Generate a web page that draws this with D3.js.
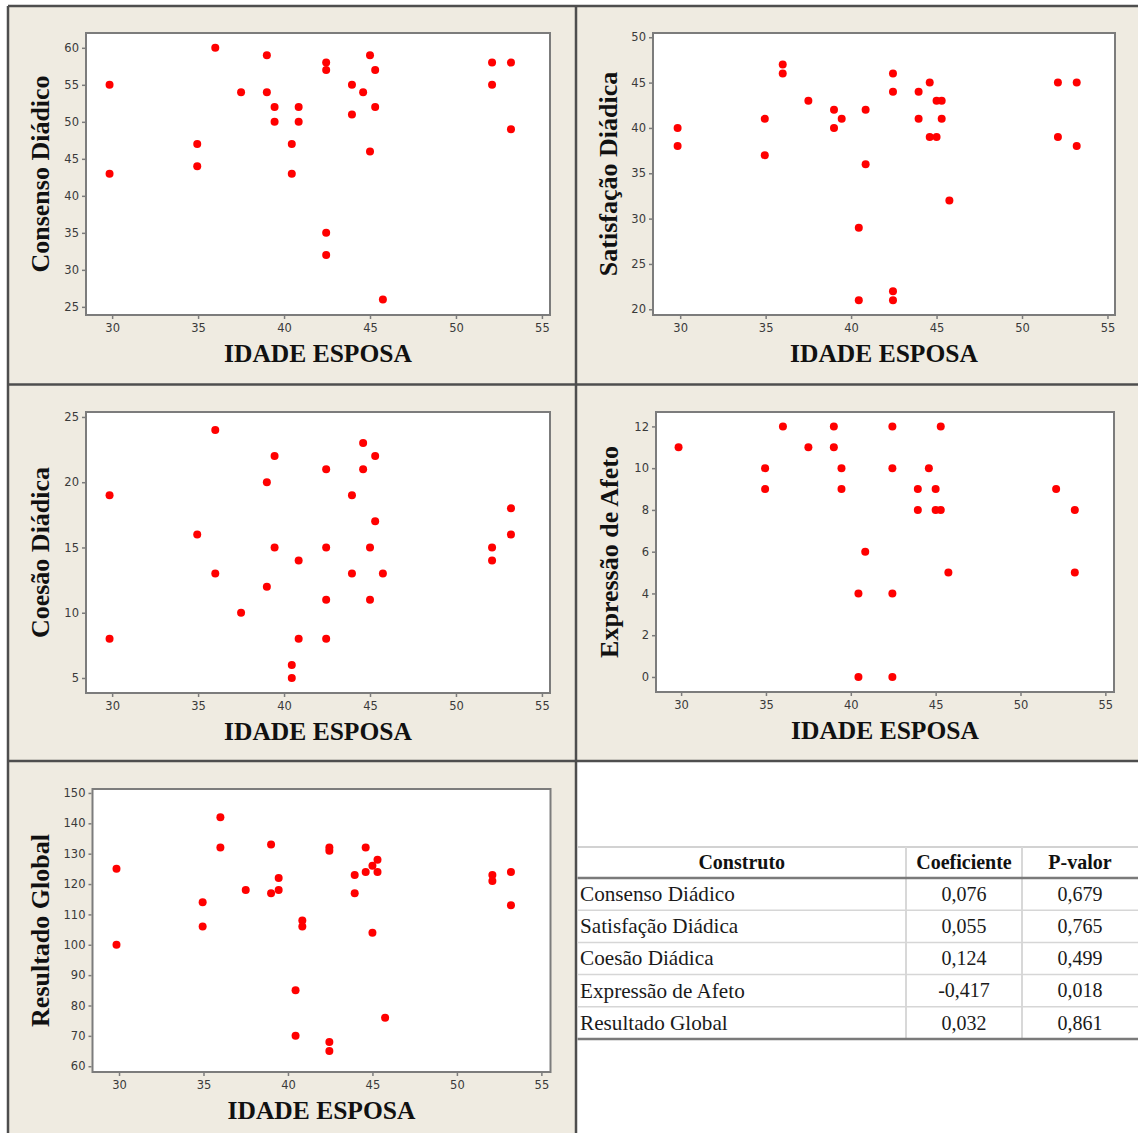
<!DOCTYPE html>
<html>
<head>
<meta charset="utf-8">
<script src="https://cdn.jsdelivr.net/npm/d3@7"></script>
<style>
  html, body { margin: 0; padding: 0; background: #ffffff; }
  svg { display: block; }
</style>
</head>
<body>
<script>
// ---------------- DATA ----------------
const xTicks = [30, 35, 40, 45, 50, 55];
const xTitle = "IDADE ESPOSA";

// Consenso Diádico
const consensoAge = [29.85,29.85,34.95,34.95,36.0,37.5,39.0,39.0,39.45,39.45,40.45,40.45,40.85,40.85,42.45,42.45,42.45,42.45,43.95,43.95,44.6,45.0,45.0,45.3,45.3,45.75,52.1,52.1,53.2,53.2];
const consensoVal = [55,43,47,44,60,54,59,54,52,50,47,43,52,50,58,57,35,32,55,51,54,59,46,57,52,26,58,55,58,49];
const consensoTicks = [25,30,35,40,45,50,55,60];

// Satisfação Diádica
const satisfacaoAge = [29.85,29.85,34.95,34.95,36.0,36.0,37.5,39.0,39.0,39.45,40.45,40.45,40.85,40.85,42.45,42.45,42.45,42.45,43.95,43.95,44.6,44.6,45.0,45.0,45.3,45.3,45.75,52.1,52.1,53.2,53.2];
const satisfacaoVal = [40,38,41,37,47,46,43,42,40,41,29,21,42,36,46,44,22,21,44,41,45,39,43,39,43,41,32,45,39,45,38];
const satisfacaoTicks = [20,25,30,35,40,45,50];

// Coesão Diádica
const coesaoAge = [29.85,29.85,34.95,36.0,36.0,37.5,39.0,39.0,39.45,39.45,40.45,40.45,40.85,40.85,42.45,42.45,42.45,42.45,43.95,43.95,44.6,44.6,45.0,45.0,45.3,45.3,45.75,52.1,52.1,53.2,53.2];
const coesaoVal = [19,8,16,24,13,10,20,12,22,15,6,5,14,8,21,15,11,8,19,13,23,21,15,11,22,17,13,15,14,18,16];
const coesaoTicks = [5,10,15,20,25];

// Expressão de Afeto
const afetoAge = [29.85,34.95,34.95,36.0,37.5,39.0,39.0,39.45,39.45,40.45,40.45,40.85,42.45,42.45,42.45,42.45,43.95,43.95,44.6,45.0,45.0,45.3,45.3,45.75,52.1,53.2,53.2];
const afetoVal = [11,10,9,12,11,12,11,10,9,4,0,6,12,10,4,0,9,8,10,9,8,12,8,5,9,8,5];
const afetoTicks = [0,2,4,6,8,10,12];

// Resultado Global
const globalAge = [29.85,29.85,34.95,34.95,36.0,36.0,37.5,39.0,39.0,39.45,39.45,40.45,40.45,40.85,40.85,42.45,42.45,42.45,42.45,43.95,43.95,44.6,44.6,45.0,45.0,45.3,45.3,45.75,52.1,52.1,53.2,53.2];
const globalVal = [125,100,114,106,142,132,118,133,117,122,118,85,70,108,106,132,131,68,65,123,117,132,124,126,104,128,124,76,123,121,124,113];
const globalTicks = [60,70,80,90,100,110,120,130,140,150];

// Table
const tableHeader = ["Construto", "Coeficiente", "P-valor"];
const constructs = ["Consenso Diádico", "Satisfação Diádica", "Coesão Diádica", "Expressão de Afeto", "Resultado Global"];
const coeficientes = ["0,076", "0,055", "0,124", "-0,417", "0,032"];
const pvalores = ["0,679", "0,765", "0,499", "0,018", "0,861"];

// ---------------- LAYOUT ----------------
const W = 1138, H = 1133;
const BG = "#efebe1";
const svg = d3.select("body").append("svg").attr("width", W).attr("height", H);

// panel backgrounds
const cells = [
  [8, 6, 576, 384.5], [576, 6, 1138, 384.5],
  [8, 384.5, 576, 761], [576, 384.5, 1138, 761],
  [8, 761, 576, 1133]
];
svg.selectAll("rect.cell").data(cells).join("rect")
  .attr("x", d => d[0]).attr("y", d => d[1])
  .attr("width", d => d[2] - d[0]).attr("height", d => d[3] - d[1])
  .attr("fill", BG);

const panels = [
  { age: consensoAge, val: consensoVal, ticks: consensoTicks, title: "Consenso Diádico",
    x0: 86, x1: 550, y0: 33, y1: 315, xd: [28.48, 55.47], yd: [23.9, 62.0], lx: 40 },
  { age: satisfacaoAge, val: satisfacaoVal, ticks: satisfacaoTicks, title: "Satisfação Diádica",
    x0: 653, x1: 1115, y0: 33, y1: 315, xd: [28.41, 55.44], yd: [19.37, 50.47], lx: 608 },
  { age: coesaoAge, val: coesaoVal, ticks: coesaoTicks, title: "Coesão Diádica",
    x0: 86, x1: 550, y0: 412, y1: 693, xd: [28.48, 55.47], yd: [3.85, 25.38], lx: 40 },
  { age: afetoAge, val: afetoVal, ticks: afetoTicks, title: "Expressão de Afeto",
    x0: 656, x1: 1114, y0: 412, y1: 692, xd: [28.52, 55.51], yd: [-0.72, 12.69], lx: 609 },
  { age: globalAge, val: globalVal, ticks: globalTicks, title: "Resultado Global",
    x0: 92.5, x1: 550.5, y0: 789, y1: 1072, xd: [28.43, 55.54], yd: [58.1, 151.3], lx: 40 }
];

panels.forEach(p => {
  const g = svg.append("g");
  const x = d3.scaleLinear().domain(p.xd).range([p.x0, p.x1]);
  const y = d3.scaleLinear().domain(p.yd).range([p.y1, p.y0]);

  g.append("rect")
    .attr("x", p.x0).attr("y", p.y0)
    .attr("width", p.x1 - p.x0).attr("height", p.y1 - p.y0)
    .attr("fill", "#ffffff").attr("stroke", "#7c7c7c").attr("stroke-width", 2);

  const ay = g.append("g").attr("transform", `translate(${p.x0 - 1},0)`)
    .call(d3.axisLeft(y).tickValues(p.ticks).tickSize(3).tickPadding(3));
  const ax = g.append("g").attr("transform", `translate(0,${p.y1 + 1})`)
    .call(d3.axisBottom(x).tickValues(xTicks).tickSize(3).tickPadding(5));
  [ay, ax].forEach(a => {
    a.select(".domain").remove();
    a.selectAll(".tick line").attr("stroke", "#7c7c7c").attr("stroke-width", 1.5);
    a.selectAll(".tick text").attr("fill", "#3a3a3a")
      .style("font-family", "'DejaVu Sans', sans-serif").style("font-size", "11.5px");
  });

  g.selectAll("circle").data(p.age.map((a, i) => [a, p.val[i]])).join("circle")
    .attr("cx", d => x(d[0])).attr("cy", d => y(d[1])).attr("r", 4)
    .attr("fill", "#ff0000");

  g.append("text")
    .attr("x", (p.x0 + p.x1) / 2).attr("y", p.y1 + 47)
    .attr("text-anchor", "middle")
    .style("font-family", "'Liberation Serif', 'Times New Roman', serif")
    .style("font-weight", "bold").style("font-size", "25.5px").attr("fill", "#111")
    .text(xTitle);

  g.append("text")
    .attr("transform", `translate(${p.lx},${(p.y0 + p.y1) / 2}) rotate(-90)`)
    .attr("dy", "0.33em")
    .attr("text-anchor", "middle")
    .style("font-family", "'Liberation Serif', 'Times New Roman', serif")
    .style("font-weight", "bold").style("font-size", "26px").attr("fill", "#111")
    .text(p.title);
});

// panel border lines
const borders = [
  [8, 6, 1138, 6], [8, 6, 8, 1133], [576, 6, 576, 1133],
  [8, 384.5, 1138, 384.5], [8, 761, 1138, 761]
];
svg.selectAll("line.border").data(borders).join("line")
  .attr("x1", d => d[0]).attr("y1", d => d[1]).attr("x2", d => d[2]).attr("y2", d => d[3])
  .attr("stroke", "#4e4e4e").attr("stroke-width", 2.5);

// ---------------- TABLE ----------------
const tX0 = 577.5, tX1 = 1138, colA = 906, colB = 1022;
const tTop = 847, tHead = 878, tBot = 1039;
const rowH = (tBot - tHead) / constructs.length;
const tg = svg.append("g");

tg.append("line").attr("x1", tX0).attr("x2", tX1).attr("y1", tTop).attr("y2", tTop)
  .attr("stroke", "#d2d2d2").attr("stroke-width", 2);
[colA, colB].forEach(cx => tg.append("line").attr("x1", cx).attr("x2", cx)
  .attr("y1", tTop).attr("y2", tBot).attr("stroke", "#d8d8d8").attr("stroke-width", 2));
d3.range(1, constructs.length).forEach(i => tg.append("line")
  .attr("x1", tX0).attr("x2", tX1).attr("y1", tHead + i * rowH).attr("y2", tHead + i * rowH)
  .attr("stroke", "#d6d6d6").attr("stroke-width", 1.5));
[tHead, tBot].forEach(yy => tg.append("line").attr("x1", tX0).attr("x2", tX1)
  .attr("y1", yy).attr("y2", yy).attr("stroke", "#7a7a7a").attr("stroke-width", 2.5));

const serif = "'Liberation Serif', 'Times New Roman', serif";
const colCenters = [(tX0 + colA) / 2, (colA + colB) / 2, (colB + tX1) / 2];
tg.selectAll("text.h").data(tableHeader).join("text")
  .attr("x", (d, i) => colCenters[i]).attr("y", (tTop + tHead) / 2).attr("dy", "0.33em")
  .attr("text-anchor", "middle")
  .style("font-family", serif).style("font-weight", "bold").style("font-size", "20px")
  .attr("fill", "#111").text(d => d);

constructs.forEach((c, i) => {
  const cy = tHead + (i + 0.5) * rowH;
  tg.append("text").attr("x", 580).attr("y", cy).attr("dy", "0.33em")
    .style("font-family", serif).style("font-size", "21.2px").attr("fill", "#1a1a1a").text(c);
  tg.append("text").attr("x", colCenters[1]).attr("y", cy).attr("dy", "0.33em")
    .attr("text-anchor", "middle")
    .style("font-family", serif).style("font-size", "20px").attr("fill", "#1a1a1a").text(coeficientes[i]);
  tg.append("text").attr("x", colCenters[2]).attr("y", cy).attr("dy", "0.33em")
    .attr("text-anchor", "middle")
    .style("font-family", serif).style("font-size", "20px").attr("fill", "#1a1a1a").text(pvalores[i]);
});
</script>
</body>
</html>
